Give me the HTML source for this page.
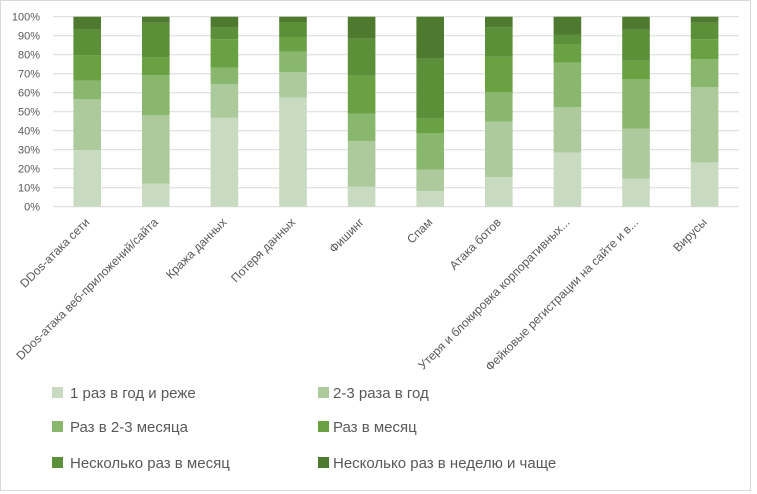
<!DOCTYPE html>
<html><head><meta charset="utf-8"><style>
html,body{margin:0;padding:0;background:#fff;width:757px;height:494px;overflow:hidden}
svg{display:block;font-family:"Liberation Sans","DejaVu Sans",sans-serif}
</style></head><body>
<svg width="757" height="494" viewBox="0 0 757 494" xmlns="http://www.w3.org/2000/svg">
<rect x="0.5" y="0.5" width="750" height="490" fill="#fff" stroke="#d9d9d9"/>
<g id="grid" stroke="#d9d9d9" stroke-width="1"></g>
<g id="ylab" font-size="11" fill="#595959" text-anchor="end"></g>
<g id="bars"></g>
<g id="xlab" font-size="12" fill="#595959" text-anchor="end"></g>
<g font-size="15" fill="#595959">
<rect x="52" y="387" width="11" height="11" fill="#c8dbc0"/><text x="70" y="398">1 раз в год и реже</text>
<rect x="318" y="387" width="11" height="11" fill="#acca9c"/><text x="333" y="398">2-3 раза в год</text>
<rect x="52" y="421" width="11" height="11" fill="#88b76d"/><text x="70" y="432">Раз в 2-3 месяца</text>
<rect x="318" y="421" width="11" height="11" fill="#6aa142"/><text x="333" y="432">Раз в месяц</text>
<rect x="52" y="457" width="11" height="11" fill="#5b8f38"/><text x="70" y="468">Несколько раз в месяц</text>
<rect x="318" y="457" width="11" height="11" fill="#4e7a30"/><text x="333" y="468">Несколько раз в неделю и чаще</text>
</g>
</svg>
<script>
var ns="http://www.w3.org/2000/svg";
function el(t,a,p,txt){var e=document.createElementNS(ns,t);for(var k in a)e.setAttribute(k,a[k]);if(txt)e.textContent=txt;document.getElementById(p).appendChild(e);}
var y0=206.7,sc=1.9,x0=53,cw=68.6,bw=27.6;
for(var i=0;i<=10;i++){var y=y0-i*19;el("line",{x1:x0,x2:739,y1:y,y2:y},"grid");el("text",{x:40,y:y+4},"ylab",(i*10)+"%");}
var d=[[29.8,56.5,66.3,79.8,93.5],[12.1,48.1,69.3,78.6,96.8],[46.8,64.6,73.2,88.1,94.2],[57.5,70.9,81.6,89.3,97.2],[10.5,34.6,48.9,68.9,88.4],[8.2,19.6,38.6,46.3,77.9],[15.6,44.7,60.2,78.9,94.4],[28.4,52.3,75.8,85.3,90.4],[14.7,41.1,67.2,76.8,93.3],[23.3,63.0,77.7,88.1,96.8]];
var c=["#c8dbc0","#acca9c","#88b76d","#6aa142","#5b8f38","#4e7a30"];
var names=["DDos-атака сети","DDos-атака веб-приложений/сайта","Кража данных","Потеря данных","Фишинг","Спам","Атака ботов","Утеря и блокировка корпоративных...","Фейковые регистрации на сайте и в...","Вирусы"];
for(var b=0;b<10;b++){var x=x0+b*cw+20.4;var v=[0].concat(d[b]).concat([100]);
for(var s=0;s<6;s++){var ya=y0-v[s+1]*sc,yb=y0-v[s]*sc;el("rect",{x:x,y:ya,width:bw,height:yb-ya,fill:c[s]},"bars");}
var cx=x+bw/2+3,cy=223;el("text",{x:cx,y:cy,transform:"rotate(-45 "+cx+" "+cy+")"},"xlab",names[b]);}
</script>
</body></html>
